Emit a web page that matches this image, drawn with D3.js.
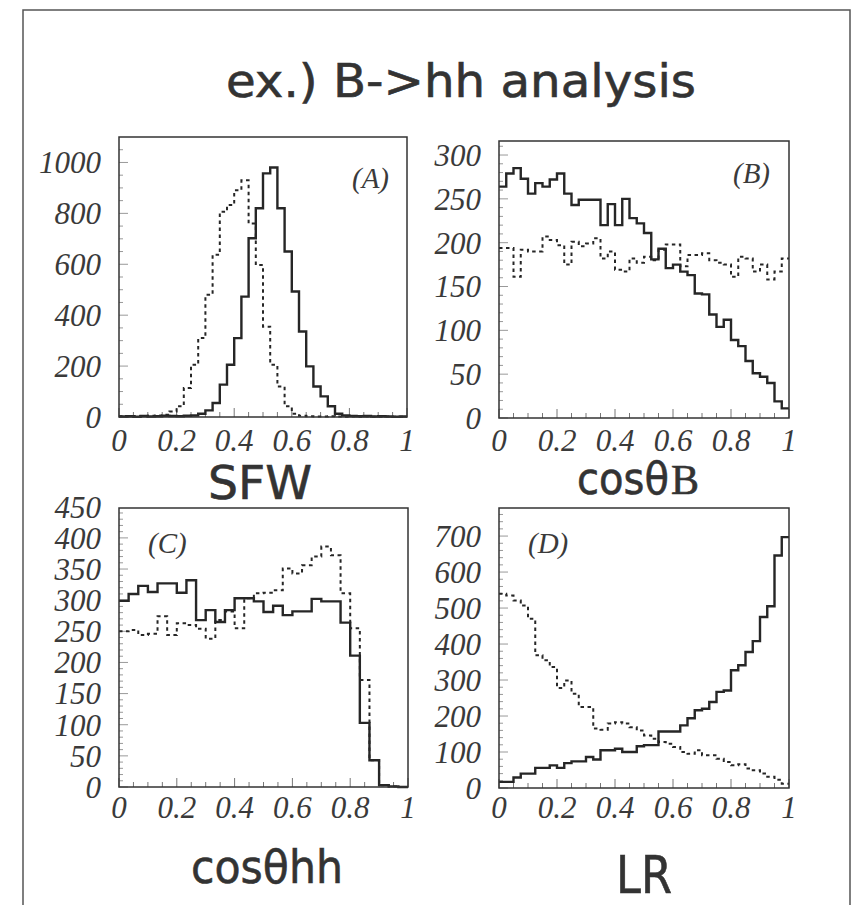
<!DOCTYPE html>
<html><head><meta charset="utf-8">
<script src="https://cdn.jsdelivr.net/npm/d3@7"></script>
<style>body{margin:0;background:#fff}</style>
</head><body>
<svg id="c" width="855" height="905"></svg>
<script>
// ---------- data ----------
const titleText = "ex.) B->hh analysis";
const xTickValues = [0, 0.2, 0.4, 0.6, 0.8, 1];
const xTickLabels = ["0", "0.2", "0.4", "0.6", "0.8", "1"];

// (A) SFW, 40 bins
const sfwSolid = [2,3,1,4,2,3,5,4,3,5,6,13,26,55,127,205,310,473,702,820,957,980,820,650,493,336,199,120,81,42,13,6,4,3,4,2,3,2,1,2];
const sfwDashed = [3,2,4,3,5,6,9,22,42,114,205,310,480,637,806,833,891,930,760,597,355,205,120,42,13,5,3,2,2,3,2,1,2,1,2,1,1,2,1,1];
const yTicksA = [0,200,400,600,800,1000];

// (B) cos theta_B, 40 bins
const cosBSolid = [264,279,285,273,256,268,264,272,279,256,243,249,249,249,220,244,220,250,228,222,211,181,193,171,175,167,163,142,141,118,104,112,89,82,65,51,47,40,19,11];
const cosBDashed = [194,194,161,192,190,190,207,203,197,175,201,196,199,205,182,190,169,167,182,177,184,180,192,198,198,173,186,186,188,180,177,175,161,184,182,167,175,158,167,182];
const yTicksB = [0,50,100,150,200,250,300];

// (C) cos theta_hh, 30 bins
const cosHHSolid = [299,310,323,313,327,327,312,332,268,284,265,284,303,303,298,281,291,276,282,282,302,298,298,264,211,103,43,3,1,0];
const cosHHDashed = [250,252,244,246,274,244,263,260,254,238,268,282,255,303,311,312,316,351,343,356,370,386,372,311,255,172,43,3,1,0];
const yTicksC = [0,50,100,150,200,250,300,350,400,450];

// (D) LR, 40 bins
const lrSolid = [17,17,29,40,40,56,56,63,56,69,74,74,86,79,105,105,109,100,100,116,119,119,157,157,157,174,194,216,220,239,267,271,327,341,378,408,475,505,646,697];
const lrDashed = [540,535,521,507,470,369,355,336,278,299,262,225,225,165,162,179,183,179,169,160,146,137,128,123,114,100,95,105,91,91,81,72,63,66,54,49,40,31,23,12];
const yTicksD = [0,100,200,300,400,500,600,700];

// ---------- layout ----------
const panels = [
  {solid:sfwSolid, dashed:sfwDashed, yticks:yTicksA, ymax:1100, minorStep:50,
   left:119, top:137, width:288, height:280, label:"(A)", lx:352, ly:188, xlabY:451},
  {solid:cosBSolid, dashed:cosBDashed, yticks:yTicksB, ymax:316, minorStep:10,
   left:499, top:141, width:290, height:277, label:"(B)", lx:733, ly:183, xlabY:451},
  {solid:cosHHSolid, dashed:cosHHDashed, yticks:yTicksC, ymax:448, minorStep:10,
   left:119, top:508, width:289, height:279, label:"(C)", lx:148, ly:553, xlabY:818},
  {solid:lrSolid, dashed:lrDashed, yticks:yTicksD, ymax:778, minorStep:20,
   left:499, top:508, width:290, height:280, label:"(D)", lx:528, ly:553, xlabY:818}
];

const svg = d3.select("#c");
const ink = "#262626";
const serif = "'Liberation Serif','Times New Roman',serif";
const sans = "'DejaVu Sans',sans-serif";

// outer frame
svg.append("path").attr("d","M23,905 V10 H850 V905")
  .attr("fill","none").attr("stroke","#555").attr("stroke-width",1.5);

// title
svg.append("text").attr("x",226).attr("y",97).text(titleText)
  .attr("font-family",sans).attr("font-size",46).attr("fill","#333")
  .attr("stroke","#333").attr("stroke-width",0.6)
  .attr("textLength",470).attr("lengthAdjust","spacingAndGlyphs");

panels.forEach(p => {
  const g = svg.append("g");
  const x = d3.scaleLinear().domain([0,1]).range([p.left, p.left + p.width]);
  const y = d3.scaleLinear().domain([0,p.ymax]).range([p.top + p.height, p.top]);
  const n = p.solid.length;
  const edges = d3.range(n + 1).map(i => i / n);

  // x ticks (minor every 0.05, major every 0.2)
  const xMinor = d3.range(0, 1.0001, 0.05);
  g.selectAll(null).data(xMinor).join("line")
    .attr("x1", d => x(d)).attr("x2", d => x(d))
    .attr("y1", y(0)).attr("y2", d => y(0) - (Math.abs(d*5 - Math.round(d*5)) < 1e-6 ? 9 : 5))
    .attr("stroke","#777").attr("stroke-width",1);
  // y ticks
  const yMinor = d3.range(0, p.ymax, p.minorStep);
  g.selectAll(null).data(yMinor).join("line")
    .attr("x1", p.left).attr("x2", d => p.left + (p.yticks.includes(d) ? 9 : 4))
    .attr("y1", d => y(d)).attr("y2", d => y(d))
    .attr("stroke","#999").attr("stroke-width",1);

  // histograms
  const line = d3.line().curve(d3.curveStepAfter).x(d => x(d[0])).y(d => y(d[1]));
  const pts = vals => edges.map((e,i) => [e, vals[Math.min(i, n-1)]]);
  g.append("path").attr("d", line(pts(p.dashed)))
    .attr("fill","none").attr("stroke",ink).attr("stroke-width",2)
    .attr("stroke-dasharray","3.5,3.5");
  g.append("path").attr("d", line(pts(p.solid)))
    .attr("fill","none").attr("stroke",ink).attr("stroke-width",2.4);

  // frame
  g.append("rect").attr("x",p.left).attr("y",p.top).attr("width",p.width).attr("height",p.height)
    .attr("fill","none").attr("stroke","#333").attr("stroke-width",1.5);

  // y tick labels
  g.selectAll(null).data(p.yticks).join("text")
    .attr("x", p.left - 18).attr("y", d => y(d)).attr("dy","0.35em")
    .attr("text-anchor","end").text(d => d)
    .attr("font-family",serif).attr("font-style","italic").attr("font-size",31).attr("fill","#3a3a3a");
  // x tick labels
  g.selectAll(null).data(xTickValues).join("text")
    .attr("x", d => x(d)).attr("y", p.xlabY)
    .attr("text-anchor","middle").text((d,i) => xTickLabels[i])
    .attr("font-family",serif).attr("font-style","italic").attr("font-size",31).attr("fill","#3a3a3a");
  // panel label
  g.append("text").attr("x",p.lx).attr("y",p.ly).text(p.label)
    .attr("font-family",serif).attr("font-style","italic").attr("font-size",29).attr("fill","#3a3a3a");
});

// axis titles
const titleStyle = sel => sel.attr("fill","#333").attr("stroke","#333").attr("stroke-width",0.6);
svg.append("text").attr("x",208).attr("y",499).text("SFW")
  .attr("font-family",sans).attr("font-size",47).call(titleStyle)
  .attr("textLength",104).attr("lengthAdjust","spacingAndGlyphs");
svg.append("text").attr("x",577).attr("y",494).text("cosθ")
  .attr("font-family",sans).attr("font-size",44).call(titleStyle)
  .attr("textLength",92).attr("lengthAdjust","spacingAndGlyphs");
svg.append("text").attr("x",671).attr("y",494).text("B")
  .attr("font-family",serif).attr("font-size",42).call(titleStyle);
svg.append("text").attr("x",191).attr("y",883).text("cosθhh")
  .attr("font-family",sans).attr("font-size",47).call(titleStyle)
  .attr("textLength",152).attr("lengthAdjust","spacingAndGlyphs");
svg.append("text").attr("x",616).attr("y",893).text("LR")
  .attr("font-family",sans).attr("font-size",52).call(titleStyle)
  .attr("textLength",56).attr("lengthAdjust","spacingAndGlyphs");
</script>
</body></html>
